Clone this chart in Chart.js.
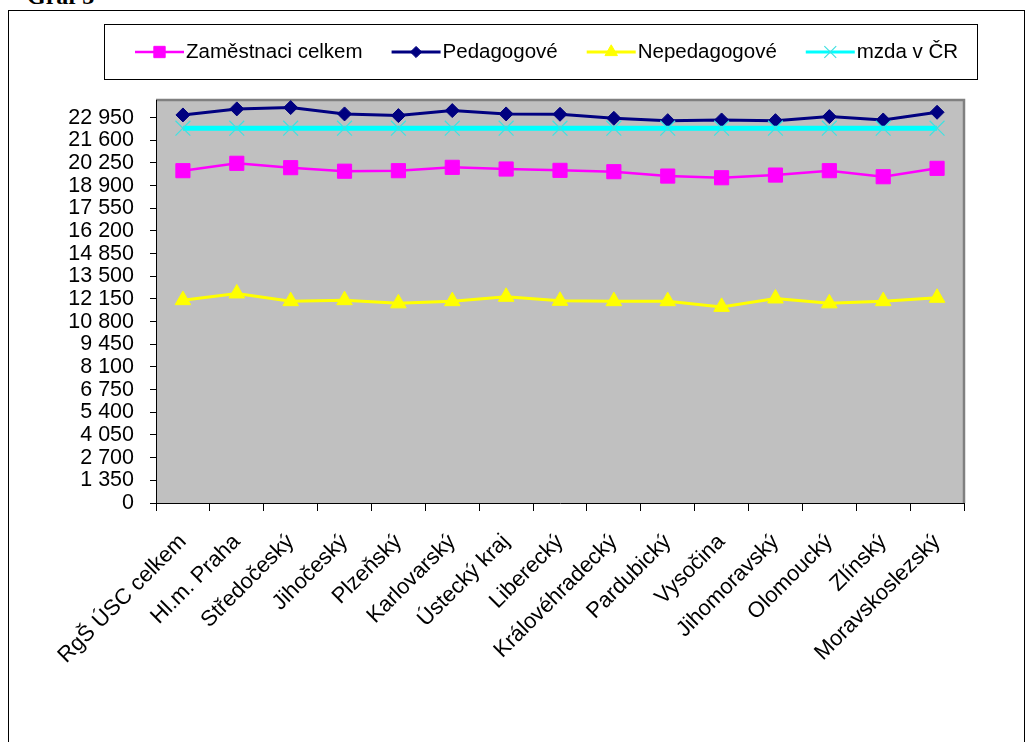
<!DOCTYPE html>
<html>
<head>
<meta charset="utf-8">
<script src="https://cdn.jsdelivr.net/npm/chart.js@4"></script>
<style>
    html, body { margin: 0; padding: 0; background: #fff; overflow: hidden; }
    #frame { position: absolute; left: 8px; top: 10px; width: 1015px; height: 760px; border: 1px solid #000; }
    #title { position: absolute; left: 27px; top: -16px; font: bold 24px "Liberation Serif", "Times New Roman", serif; line-height: 24px; color: #000; }
    #chart { position: absolute; left: 0; top: 0; }
</style>
</head>
<body>
<div id="title">Graf 3</div>
<div id="frame"></div>
<canvas id="chart" width="1027" height="742"></canvas>
<script>
// ── Data ─────────────────────────────────────────────────────────────────
const categories = ['RgŠ ÚSC celkem', 'Hl.m. Praha', 'Středočeský', 'Jihočeský', 'Plzeňský', 'Karlovarský',
    'Ústecký kraj', 'Liberecký', 'Královéhradecký', 'Pardubický', 'Vysočina', 'Jihomoravský',
    'Olomoucký', 'Zlínský', 'Moravskoslezský'];
const zamestnanci = [19790, 20230, 19970, 19760, 19790, 19990, 19890, 19810, 19730, 19470, 19370, 19530, 19790, 19430, 19930];
const pedagogove = [23110, 23470, 23550, 23170, 23070, 23370, 23170, 23150, 22910, 22770, 22810, 22770, 23010, 22810, 23270];
const nepedagogove = [12080, 12480, 12020, 12080, 11890, 12020, 12280, 12040, 12020, 12020, 11680, 12180, 11890, 12020, 12220];
const mzdaCR = [22320, 22320, 22320, 22320, 22320, 22320, 22320, 22320, 22320, 22320, 22320, 22320, 22320, 22320, 22320];
const yTicks = [0, 1350, 2700, 4050, 5400, 6750, 8100, 9450, 10800, 12150, 13500, 14850, 16200, 17550, 18900, 20250, 21600, 22950];
const yMax = 24000;

const FONT = '"Liberation Sans", Arial, sans-serif';

function fmt(v) { return String(v).replace(/\B(?=(\d{3})+(?!\d))/g, ' '); }

// gray plot area with excel-like border
const plotBg = {
    id: 'plotBg',
    beforeDraw(chart) {
        const { ctx, chartArea: a } = chart;
        ctx.save();
        ctx.fillStyle = '#c0c0c0';
        ctx.fillRect(a.left, a.top, a.right - a.left, a.bottom - a.top);
        ctx.strokeStyle = '#808080';
        ctx.lineWidth = 2.5;
        ctx.beginPath();
        ctx.moveTo(a.left, a.top);
        ctx.lineTo(a.right, a.top);
        ctx.lineTo(a.right, a.bottom);
        ctx.stroke();
        ctx.restore();
    }
};

// boxed legend, line sample with marker like excel
const boxLegend = {
    id: 'boxLegend',
    afterDraw(chart) {
        const ctx = chart.ctx;
        const y = 52;
        ctx.save();
        ctx.strokeStyle = '#000';
        ctx.lineWidth = 1;
        ctx.strokeRect(104.5, 24.5, 873, 55);
        ctx.font = '20.5px ' + FONT;
        ctx.textBaseline = 'middle';
        let x = 135;
        chart.data.datasets.forEach(ds => {
            ctx.strokeStyle = ds.borderColor;
            ctx.lineWidth = Math.min(ds.borderWidth, 3);
            ctx.beginPath();
            ctx.moveTo(x, y);
            ctx.lineTo(x + 49, y);
            ctx.stroke();
            ctx.fillStyle = ds.pointBackgroundColor;
            ctx.strokeStyle = ds.pointBorderColor;
            ctx.lineWidth = ds.pointBorderWidth;
            Chart.helpers.drawPoint(ctx, { pointStyle: ds.pointStyle, radius: ds.pointRadius * 0.8, rotation: 0, borderWidth: ds.pointBorderWidth }, x + 24.5, y);
            ctx.fillStyle = '#000';
            ctx.fillText(ds.label, x + 51, y);
            x += 51 + ctx.measureText(ds.label).width + 29;
        });
        ctx.restore();
    }
};

function series(label, data, color, width, style, radius, border, borderW, order) {
    return {
        label, data, order,
        borderColor: color,
        borderWidth: width,
        pointStyle: style,
        pointRadius: radius,
        pointBackgroundColor: color,
        pointBorderColor: border,
        pointBorderWidth: borderW,
        tension: 0,
        fill: false
    };
}

new Chart(document.getElementById('chart'), {
    type: 'line',
    data: {
        labels: categories,
        datasets: [
            series('Zaměstnaci celkem', zamestnanci, '#ff00ff', 2.5, 'rect', 10, '#ff00ff', 1, 4),
            series('Pedagogové', pedagogove, '#000080', 3, 'rectRot', 7, '#000080', 1, 3),
            series('Nepedagogové', nepedagogove, '#ffff00', 3, 'triangle', 9, '#ffff00', 1, 2),
            series('mzda v ČR', mzdaCR, '#00ffff', 5, 'crossRot', 10.5, '#40e0e0', 1.2, 1)
        ]
    },
    options: {
        responsive: false,
        animation: false,
        layout: { padding: { top: 100, right: 63, left: 0, bottom: 0 } },
        plugins: {
            legend: { display: false },
            tooltip: { enabled: false }
        },
        scales: {
            x: {
                offset: true,
                grid: { offset: true, drawOnChartArea: false, drawTicks: true, tickLength: 8, color: '#000' },
                border: { color: '#000', width: 1 },
                ticks: {
                    color: '#000', font: { family: FONT, size: 22 },
                    maxRotation: 45, minRotation: 45, autoSkip: false, padding: 18
                },
                afterFit(scale) { scale.height = 742 - 503; }
            },
            y: {
                min: 0,
                max: yMax,
                grid: { drawOnChartArea: false, drawTicks: true, tickLength: 6, color: '#000' },
                border: { color: '#000', width: 1 },
                ticks: {
                    color: '#000', font: { family: FONT, size: 21.5, lineHeight: 1 }, padding: 16,
                    autoSkip: false, maxTicksLimit: 40,
                    callback: v => fmt(v)
                },
                afterBuildTicks(scale) {
                    scale.ticks = yTicks.map(v => ({ value: v }));
                },
                afterFit(scale) { scale.width = 156; }
            }
        }
    },
    plugins: [plotBg, boxLegend]
});
</script>
</body>
</html>
